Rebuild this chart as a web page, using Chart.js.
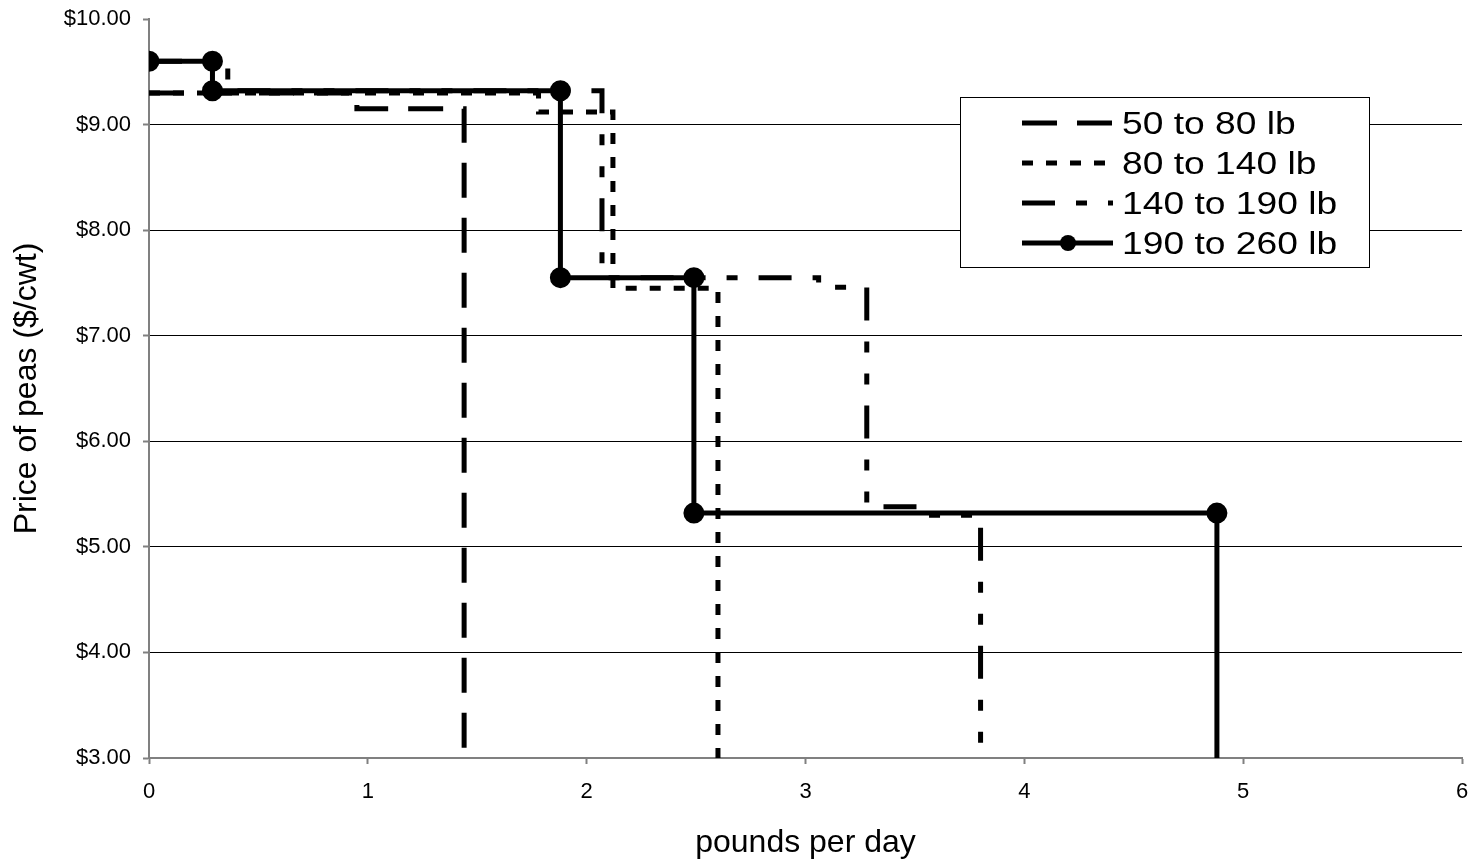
<!DOCTYPE html>
<html>
<head>
<meta charset="utf-8">
<script src="https://cdn.jsdelivr.net/npm/chart.js@4/dist/chart.umd.min.js"></script>
<style>
  body { margin: 0; background: #fff; }
</style>
</head>
<body>
<canvas id="grafico" width="1475" height="862"></canvas>
<script>
// series names
var seriesLabels = ['50 to 80 lb', '80 to 140 lb', '140 to 190 lb', '190 to 260 lb'];

// step lines: pounds per day (x) and price $/cwt (y)
var x50to80 = [0, 0.95, 0.95, 1.44, 1.44];
var y50to80 = [9.30, 9.30, 9.15, 9.15, 3.00];

var x80to140 = [0, 1.78, 1.78, 2.12, 2.12, 2.60, 2.60];
var y80to140 = [9.30, 9.30, 9.12, 9.12, 7.45, 7.45, 3.00];

var x140to190 = [0, 0.36, 0.36, 2.07, 2.07, 3.06, 3.06, 3.28, 3.28, 3.52, 3.52, 3.80, 3.80];
var y140to190 = [9.60, 9.60, 9.32, 9.32, 7.55, 7.55, 7.46, 7.46, 5.38, 5.38, 5.30, 5.30, 3.00];

var x190to260 = [0, 0.29, 0.29, 1.88, 1.88, 2.49, 2.49, 4.88, 4.88];
var y190to260 = [9.60, 9.60, 9.32, 9.32, 7.55, 7.55, 5.32, 5.32, 3.00];

var xTicks = [0, 1, 2, 3, 4, 5, 6];
var yTicks = [3, 4, 5, 6, 7, 8, 9, 10];

function pts(xs, ys) {
    return xs.map(function (x, i) { return {x: x, y: ys[i]}; });
}

var fontFam = "'Liberation Sans', Arial, sans-serif";

var data = {
    datasets: [{
        label: seriesLabels[0],
        data: pts(x50to80, y50to80),
        borderColor: '#000',
        borderWidth: 5,
        borderDash: [35, 20],
        pointRadius: 0,
        order: 3
    }, {
        label: seriesLabels[1],
        data: pts(x80to140, y80to140),
        borderColor: '#000',
        borderWidth: 5,
        borderDash: [11, 13],
        pointRadius: 0,
        order: 2
    }, {
        label: seriesLabels[2],
        data: pts(x140to190, y140to190),
        borderColor: '#000',
        borderWidth: 5,
        borderDash: [33, 21, 11, 21, 11, 21],
        pointRadius: 0,
        order: 1
    }, {
        label: seriesLabels[3],
        data: pts(x190to260, y190to260),
        borderColor: '#000',
        borderWidth: 5,
        backgroundColor: '#000',
        pointBackgroundColor: '#000',
        pointBorderColor: '#000',
        pointRadius: x190to260.map(function (v, i) { return i === x190to260.length - 1 ? 0 : 8; }),
        order: 0
    }]
};

// boxed legend drawn on the canvas, inside the plot
var boxLegend = {
    id: 'boxLegend',
    afterDraw: function (chart) {
        var ctx = chart.ctx;
        var bx = 960, by = 97, bw = 409, bh = 170;
        ctx.save();
        ctx.fillStyle = '#fff';
        ctx.fillRect(bx, by, bw, bh);
        ctx.strokeStyle = '#000';
        ctx.lineWidth = 1;
        ctx.strokeRect(bx + 0.5, by + 0.5, bw, bh);
        chart.data.datasets.forEach(function (ds, i) {
            var rowY = 123 + i * 40;
            ctx.strokeStyle = '#000';
            ctx.lineWidth = ds.borderWidth;
            ctx.setLineDash(ds.borderDash || []);
            ctx.beginPath();
            ctx.moveTo(1022, rowY);
            ctx.lineTo(1113, rowY);
            ctx.stroke();
            ctx.setLineDash([]);
            if (i === 3) {
                ctx.fillStyle = '#000';
                ctx.beginPath();
                ctx.arc(1068, rowY, 8, 0, Math.PI * 2);
                ctx.fill();
            }
            ctx.save();
            ctx.translate(1122, rowY + 11);
            ctx.scale(1.2, 1);
            ctx.fillStyle = '#000';
            ctx.font = '31px ' + fontFam;
            ctx.textBaseline = 'alphabetic';
            ctx.fillText(ds.label, 0, 0);
            ctx.restore();
        });
        ctx.restore();
    }
};

var options = {
    responsive: false,
    animation: false,
    devicePixelRatio: 1,
    layout: { padding: { left: 4, right: 12, top: 19, bottom: 0 } },
    elements: { line: { tension: 0, borderJoinStyle: 'miter', borderCapStyle: 'butt' } },
    plugins: { legend: { display: false }, tooltip: { enabled: false } },
    scales: {
        x: {
            type: 'linear',
            min: 0,
            max: 6,
            afterFit: function (s) { s.height = 104; s.paddingLeft = 0; s.paddingRight = 0; },
            afterBuildTicks: function (s) { s.ticks = xTicks.map(function (v) { return {value: v}; }); },
            ticks: {
                color: '#000',
                font: { family: fontFam, size: 22 },
                padding: 15,
                maxRotation: 0
            },
            grid: { drawOnChartArea: false, drawTicks: true, tickLength: 6, tickColor: '#808080', tickWidth: 2 },
            border: { color: '#808080', width: 2 },
            title: {
                display: true,
                text: 'pounds per day',
                color: '#000',
                font: { family: fontFam, size: 32 },
                padding: { top: 3, bottom: 0 }
            }
        },
        y: {
            min: 3,
            max: 10,
            afterFit: function (s) { s.width = 145; s.paddingTop = 0; s.paddingBottom = 0; },
            afterBuildTicks: function (s) { s.ticks = yTicks.map(function (v) { return {value: v}; }); },
            ticks: {
                color: '#000',
                font: { family: fontFam, size: 22 },
                padding: 12,
                callback: function (v) { return '$' + Number(v).toFixed(2); }
            },
            grid: {
                color: function (c) {
                    return (c.tick && (c.tick.value === 10 || c.tick.value === 3)) ? 'rgba(0,0,0,0)' : '#000';
                },
                lineWidth: 1,
                tickLength: 6,
                tickColor: '#808080',
                tickWidth: 2
            },
            border: { color: '#808080', width: 2 },
            title: {
                display: true,
                text: 'Price of peas ($/cwt)',
                color: '#000',
                font: { family: fontFam, size: 32 },
                padding: { top: 4, bottom: 0 }
            }
        }
    }
};

var ctx = document.querySelector('#grafico').getContext('2d');
var lineChart = new Chart(ctx, {
    type: 'line',
    data: data,
    options: options,
    plugins: [boxLegend]
});
</script>
</body>
</html>
